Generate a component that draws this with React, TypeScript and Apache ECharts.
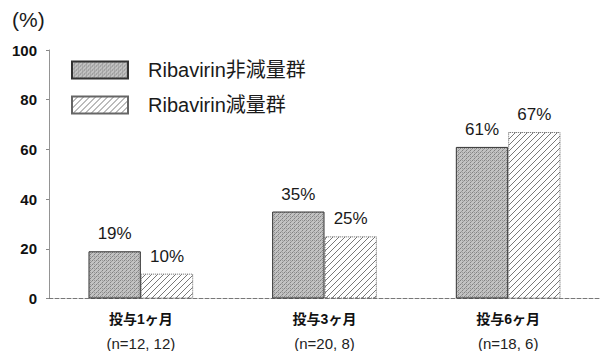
import React, { useEffect, useRef } from "react";
import * as echarts from "echarts";

const categories = ["投与1ヶ月", "投与3ヶ月", "投与6ヶ月"];
const sampleSizes = ["(n=12, 12)", "(n=20, 8)", "(n=18, 6)"];
const seriesNames = ["Ribavirin非減量群", "Ribavirin減量群"];
const nonReduced = [19, 35, 61];
const reduced = [10, 25, 67];
const yTicks = [0, 20, 40, 60, 80, 100];

const LATIN = "'Liberation Sans', Arial, 'Noto Sans CJK JP', sans-serif";
const CJK = "'Liberation Sans', 'Noto Sans CJK JP', sans-serif";

// fine grey stipple for the solid bars
function makeStipple(): HTMLCanvasElement {
  const c = document.createElement("canvas");
  c.width = 4;
  c.height = 4;
  const ctx = c.getContext("2d")!;
  ctx.fillStyle = "#c2c2c2";
  ctx.fillRect(0, 0, 4, 4);
  ctx.fillStyle = "#808080";
  ctx.fillRect(0, 0, 1, 1);
  ctx.fillRect(2, 2, 1, 1);
  ctx.fillStyle = "#9a9a9a";
  ctx.fillRect(2, 0, 1, 1);
  ctx.fillRect(1, 3, 1, 1);
  ctx.fillRect(3, 1, 1, 1);
  return c;
}

// diagonal hatching for the reduced-dose bars
function makeHatch(): HTMLCanvasElement {
  const s = 6;
  const c = document.createElement("canvas");
  c.width = s;
  c.height = s;
  const ctx = c.getContext("2d")!;
  ctx.fillStyle = "#ffffff";
  ctx.fillRect(0, 0, s, s);
  ctx.strokeStyle = "#6a6a6a";
  ctx.lineWidth = 0.9;
  ctx.beginPath();
  ctx.moveTo(-1, s + 1);
  ctx.lineTo(s + 1, -1);
  ctx.moveTo(-1, 1);
  ctx.lineTo(1, -1);
  ctx.moveTo(s - 1, s + 1);
  ctx.lineTo(s + 1, s - 1);
  ctx.stroke();
  return c;
}

export default function App() {
  const ref = useRef<HTMLDivElement>(null);

  useEffect(() => {
    if (!ref.current) return;
    const chart = echarts.init(ref.current, undefined, { renderer: "svg" });
    const stipple = { image: makeStipple(), repeat: "repeat" as const };
    const hatch = { image: makeHatch(), repeat: "repeat" as const };

    const labelStyle = {
      show: true,
      position: "top" as const,
      distance: 9,
      formatter: "{c}%",
      fontFamily: LATIN,
      fontSize: 17,
      color: "#1a1a1a",
    };

    chart.setOption({
      animation: false,
      backgroundColor: "#ffffff",
      grid: { left: 49, right: 3, top: 50, bottom: 52 },
      graphic: [
        {
          type: "text",
          left: 12,
          top: 9,
          style: { text: "(%)", font: `21px ${LATIN}`, fill: "#1a1a1a" },
        },
      ],
      legend: {
        orient: "vertical",
        left: 66,
        top: 55,
        itemWidth: 56,
        itemHeight: 17,
        itemGap: 15,
        icon: "rect",
        textStyle: {
          fontFamily: CJK,
          fontSize: 20,
          color: "#1a1a1a",
          padding: [2, 0, 0, 15],
        },
        data: seriesNames,
      },
      xAxis: {
        type: "category",
        data: categories,
        axisLine: { lineStyle: { color: "#777", type: "dashed", width: 1 } },
        axisTick: { show: false },
        axisLabel: {
          margin: 9,
          formatter: (v: string, i: number) => `{a|${v}}\n{b|${sampleSizes[i]}}`,
          rich: {
            a: { fontFamily: CJK, fontSize: 14, fontWeight: "bold", color: "#111", lineHeight: 24 },
            b: { fontFamily: LATIN, fontSize: 15, color: "#222", lineHeight: 24 },
          },
        },
      },
      yAxis: {
        type: "value",
        min: yTicks[0],
        max: yTicks[yTicks.length - 1],
        interval: 20,
        splitLine: { show: false },
        axisLine: { show: true, lineStyle: { color: "#888", type: "dotted", width: 1 } },
        axisTick: { show: true, length: 3, lineStyle: { color: "#888" } },
        axisLabel: {
          margin: 12,
          fontFamily: LATIN,
          fontSize: 15,
          fontWeight: "bold",
          color: "#111",
        },
      },
      series: [
        {
          name: seriesNames[0],
          type: "bar",
          data: nonReduced,
          barGap: "0%",
          barCategoryGap: "43%",
          itemStyle: { color: stipple, borderColor: "#333", borderWidth: 1 },
          label: labelStyle,
        },
        {
          name: seriesNames[1],
          type: "bar",
          data: reduced,
          itemStyle: { color: hatch, borderColor: "#666", borderWidth: 1, borderType: "dotted" },
          label: labelStyle,
        },
      ],
    });
    return () => chart.dispose();
  }, []);

  return (
    <div
      ref={ref}
      style={{ position: "absolute", left: 0, top: 0, width: 603, height: 351 }}
    />
  );
}
